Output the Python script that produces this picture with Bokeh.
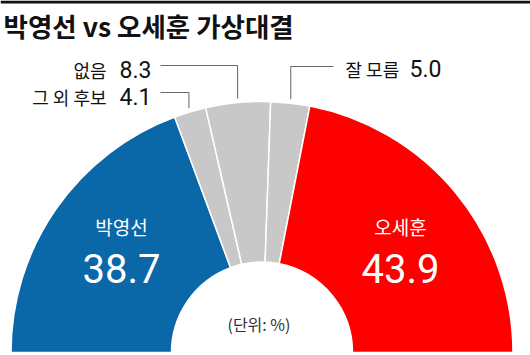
import numpy as np
from bokeh.plotting import figure
from bokeh.models import Range1d, BoxAnnotation
from bokeh.core.properties import value
from bokeh.embed import file_html
from bokeh.resources import INLINE

# ---- data ----
names = ["박영선", "그 외 후보", "없음", "잘 모름", "오세훈"]
values = [38.7, 4.1, 8.3, 5.0, 43.9]
colors = ["#0a67a8", "#c8c8c8", "#c8c8c8", "#c8c8c8", "#ff0000"]
title = "박영선 vs 오세훈 가상대결"
unit_note = "(단위: %)"

W, H = 530, 355
CX, CY = 261.5, 3.0
R_OUT, R_IN = 251.0, 90.5

p = figure(width=W, height=H, output_backend="svg", toolbar_location=None,
           x_range=Range1d(0, W), y_range=Range1d(0, H), min_border=0)
p.axis.visible = False
p.grid.visible = False
p.outline_line_color = None
p.background_fill_color = "white"
p.border_fill_color = "white"

vals = np.array(values)
cum = np.cumsum(vals)
prev = cum - vals
start = np.pi - prev / 100 * np.pi
end = np.pi - cum / 100 * np.pi
mid = (start + end) / 2

p.annular_wedge(x=CX, y=CY, inner_radius=R_IN, outer_radius=R_OUT,
                start_angle=list(start), end_angle=list(end), direction="clock",
                fill_color=colors, line_color="white", line_width=1.5)

# top bar
p.add_layout(BoxAnnotation(top=H, bottom=H - 3, left=0, right=W,
                           fill_color="#111111", fill_alpha=1, line_color=None))

KR = value("Noto Sans CJK KR")
NUM = value("Roboto")

# title
p.text(x=[3], y=[H - 25], text=[title], text_font=KR, text_font_style="bold",
       text_font_size="26.5px", text_color="#111111", text_baseline="middle",
       text_align="left")

# big labels inside blue / red
big_idx = [0, 4]
big_x = [121, 400]
for i, bx in zip(big_idx, big_x):
    p.text(x=[bx], y=[H - 226], text=[names[i]], text_font=KR,
           text_font_size="19px", text_color="white", text_align="center",
           text_baseline="middle")
    p.text(x=[bx], y=[H - 268], text=[f"{values[i]:.1f}"], text_font=NUM,
           text_font_size="40px", text_color="white", text_align="center",
           text_baseline="middle")

# small labels with leader lines
small_idx = [1, 2, 3]
label_y = [H - 92, H - 65, H - 66]
line_end_x = [160, 160, 333]
side = ["left", "left", "right"]
for i, ly, lx, sd in zip(small_idx, label_y, line_end_x, side):
    ax = CX + (R_OUT + 4) * np.cos(mid[i])
    ay = CY + (R_OUT + 4) * np.sin(mid[i])
    p.line(x=[ax, ax, lx], y=[ay, ly, ly], line_color="#666666", line_width=1)
    num = f"{values[i]:.1f}"
    if sd == "left":
        p.text(x=[lx - 9], y=[ly - 4], text=[num], text_font=NUM,
               text_font_size="23px", text_color="#111111", text_align="right",
               text_baseline="middle")
        p.text(x=[lx - 54], y=[ly - 4], text=[names[i]], text_font=KR,
               text_font_size="18px", text_color="#111111", text_align="right",
               text_baseline="middle")
    else:
        p.text(x=[lx + 12], y=[ly - 2], text=[names[i]], text_font=KR,
               text_font_size="18px", text_color="#111111", text_align="left",
               text_baseline="middle")
        p.text(x=[lx + 76], y=[ly - 2], text=[num], text_font=NUM,
               text_font_size="23px", text_color="#111111", text_align="left",
               text_baseline="middle")

p.text(x=[CX - 3], y=[H - 323], text=[unit_note], text_font=KR,
       text_font_size="16px", text_color="#333333", text_align="center",
       text_baseline="middle")

open("out.html", "w").write(file_html(p, INLINE))
